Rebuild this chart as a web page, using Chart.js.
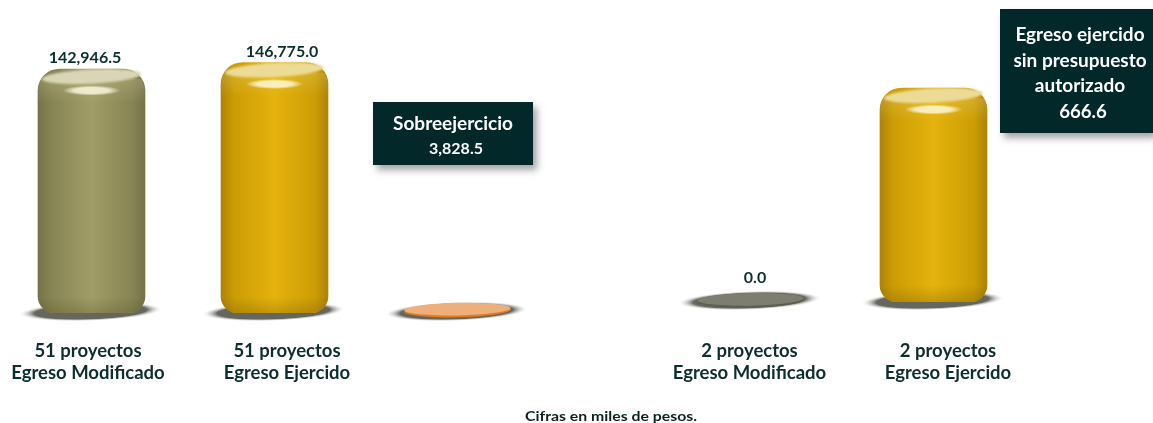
<!DOCTYPE html>
<html><head><meta charset="utf-8">
<script src="https://cdn.jsdelivr.net/npm/chart.js@4/dist/chart.umd.js"></script>
<style>
html,body{margin:0;padding:0;background:#fff;width:1153px;height:423px;overflow:hidden}
canvas{position:absolute;top:0}
.t{position:absolute;transform:translate(-50%,-50%);white-space:nowrap;font-family:Lato,sans-serif;font-weight:700}
.box{position:absolute;background:#03282a;box-shadow:4px 5px 7px rgba(90,90,90,.55)}
</style></head><body>
<canvas id="leftChart" width="549" height="423" style="left:0"></canvas>
<canvas id="rightChart" width="366" height="423" style="left:659px"></canvas>
<div class="box" style="left:373px;top:102px;width:160px;height:63px"></div>
<div class="box" style="left:1000px;top:9px;width:153px;height:124px"></div>
<div id="notes"></div>
<script>
const leftCategories = [["51 proyectos","Egreso Modificado"],["51 proyectos","Egreso Ejercido"],""];
const leftValues = [142946.5,146775.0,3828.5];
const leftLabels = ["142,946.5","146,775.0",""];
const rightCategories = [["2 proyectos","Egreso Modificado"],["2 proyectos","Egreso Ejercido"]];
const rightValues = [0.0,666.6];
const rightLabels = ["0.0",""];
const INK="#0d2e2e";
const palettes={
 olive:{edge:"#75724a",soft:"#878454",mid:"#a09d68",cap:"#d8d6b4",rim:"#6f6c42"},
 gold:{edge:"#ad8306",soft:"#cb9c04",mid:"#e5b20d",cap:"#ecdb96",rim:"#a97d04"},
 orange:{edge:"#e47c1e",soft:"#e9a56a",mid:"#efb27e",cap:"#edb07c",rim:"#e47c1e"},
 grey:{edge:"#55554a",soft:"#77776a",mid:"#85857a",cap:"#7d7d70",rim:"#5c5c50"}
};
function bodyFill(ctx,name,w){
 const x=ctx.chart.scales.x.getPixelForValue(ctx.dataIndex), p=palettes[name];
 if(!p||!isFinite(x)) return "rgba(0,0,0,0)";
 const g=ctx.chart.ctx.createLinearGradient(x-w/2,0,x+w/2,0);
 g.addColorStop(0,p.edge);g.addColorStop(.12,p.soft);g.addColorStop(.5,p.mid);g.addColorStop(.88,p.soft);g.addColorStop(1,p.edge);
 return g;
}
class OffsetCategory extends Chart.CategoryScale{
 _computeLabelItems(area){
  const items=super._computeLabelItems(area), off=this.options.labelShift||[];
  items.forEach((it,i)=>{it.options.translation[0]+=off[i]||0;});
  return items;
 }
}
OffsetCategory.id="offsetCategory";
OffsetCategory.defaults=Chart.CategoryScale.defaults;
Chart.register(OffsetCategory);

function softEllipse(c,x,y,rx,ry,rot,color,alpha,stop){
 c.save();c.translate(x,y);c.rotate(rot);c.scale(rx,ry);
 const g=c.createRadialGradient(0,0,0,0,0,1);
 g.addColorStop(0,color);g.addColorStop(stop||.6,color);g.addColorStop(1,"rgba(255,255,255,0)");
 c.globalAlpha=alpha;c.fillStyle=g;c.beginPath();c.arc(0,0,1,0,Math.PI*2);c.fill();c.restore();
}
const cylinderPlugin={
 id:"cylinders",
 beforeDatasetsDraw(chart,a,o){
  const c=chart.ctx;
  chart.getDatasetMeta(0).data.forEach(b=>{
   softEllipse(c,b.x-1,b.base-1.5,72,9.5,-0.035,"#66665f",1,.78);
  });
 },
 afterDatasetsDraw(chart,a,o){
  const c=chart.ctx;
  chart.getDatasetMeta(0).data.forEach((b,i)=>{
   const p=palettes[o.palette[i]], h=b.base-b.y, w=b.width, x=b.x;
   if(h<20){
    const cy=Math.min((b.base+b.y)/2,b.base-2);
    c.save();c.translate(x,cy);c.rotate(-0.02);
    c.fillStyle=p.rim;c.beginPath();c.ellipse(0,0.6,w/2,7,0,0,Math.PI*2);c.fill();
    c.fillStyle=p.cap;c.beginPath();c.ellipse(0,-0.6,w/2-.5,6.3,0,0,Math.PI*2);c.fill();
    c.restore();
    return;
   }
   c.save();
   c.beginPath();c.roundRect(x-w/2,b.y,w,h,[22,22,17,17]);c.clip();
   let g=c.createLinearGradient(0,b.base-16,0,b.base);
   g.addColorStop(0,"rgba(60,50,0,0)");g.addColorStop(1,"rgba(60,50,0,.2)");
   c.fillStyle=g;c.fillRect(x-w/2,b.base-16,w,16);
   g=c.createLinearGradient(0,b.y+10,0,b.y+34);
   g.addColorStop(0,"rgba(255,245,190,.18)");g.addColorStop(1,"rgba(255,245,190,0)");
   c.fillStyle=g;c.fillRect(x-w/2,b.y+10,w,24);
   c.restore();
   // lid
   c.save();c.translate(x,b.y+7.5);c.rotate(-0.05);
   c.filter="blur(0.8px)";
   c.fillStyle=p.cap;c.beginPath();c.ellipse(0,0,w/2-4,7,0,0,Math.PI*2);c.fill();c.restore();
   // highlight
   softEllipse(c,x,b.y+21.5,29,5,0,"rgba(255,252,225,.95)",.85);
  });
 }
};
const valueLabelPlugin={
 id:"valueLabels",
 afterDraw(chart,a,o){
  const c=chart.ctx;
  c.save();c.font="700 16px Lato";c.fillStyle=INK;c.textAlign="center";c.textBaseline="middle";
  chart.getDatasetMeta(0).data.forEach((b,i)=>{
   if(!o.text[i])return;
   c.fillText(o.text[i],b.x+o.dx[i],o.gap[i]+b.y);
  });
  c.restore();
 }
};
function build(id,cats,vals,labels,pal,axisBase,maxV,shift,pad,dx,gap,barW){
 return new Chart(document.getElementById(id),{
  type:"bar",
  data:{labels:cats,datasets:[{data:vals,barThickness:barW,
    backgroundColor:ctx=>{const b=ctx.parsed&&Math.abs(ctx.parsed.y)/maxV<.05;return b?"rgba(0,0,0,0)":bodyFill(ctx,pal[ctx.dataIndex],barW);},
    borderWidth:0,borderRadius:{topLeft:22,topRight:22,bottomLeft:17,bottomRight:17},borderSkipped:false}]},
  options:{responsive:false,animation:false,events:[],
   layout:{autoPadding:false,padding:0},
   scales:{
    x:{type:"offsetCategory",labelShift:shift,grid:{display:false,drawTicks:false},border:{display:false},
       afterFit(s){s.height=423-axisBase;s.paddingLeft=0;s.paddingRight=0;},
       ticks:{autoSkip:false,maxRotation:0,minRotation:0,padding:pad,color:INK,font:{family:"Lato",weight:"700",size:18.5,lineHeight:1.19}}},
    y:{display:false,min:0,max:maxV}
   },
   plugins:{legend:{display:false},tooltip:{enabled:false},
    cylinders:{palette:pal},valueLabels:{text:labels,dx:dx,gap:gap}}
  },
  plugins:[cylinderPlugin,valueLabelPlugin]
 });
}
build("leftChart",leftCategories,leftValues,leftLabels,["olive","gold","orange"],313,183370,[-3.5,12.5,0],27,[-6.5,7.5,0],[-11,-11,0],107);
build("rightChart",rightCategories,rightValues,rightLabels,["grey","gold"],302,940.7,[-1,14.5],38,[4.5,0],[-24,0],107);

const notes=[
 ["Sobreejercicio",453,122,19,"#fff",1],["3,828.5",456,147,16,"#fff",1],
 ["Egreso ejercido",1080,33,19,"#fff",1],["sin presupuesto",1080,59,19,"#fff",1],
 ["autorizado",1080,84,19,"#fff",1],["666.6",1083,111,18.6,"#fff",1],
 ["Cifras en miles de pesos.",611,415,14,"#0d2020",1.13]
];
const host=document.getElementById("notes");
notes.forEach(([s,x,y,f,col,sx])=>{const d=document.createElement("div");d.className="t";d.textContent=s;
 d.style.cssText=`left:${x}px;top:${y}px;font-size:${f}px;color:${col};transform:translate(-50%,-50%) scaleX(${sx})`;host.appendChild(d);});
</script>
</body></html>
